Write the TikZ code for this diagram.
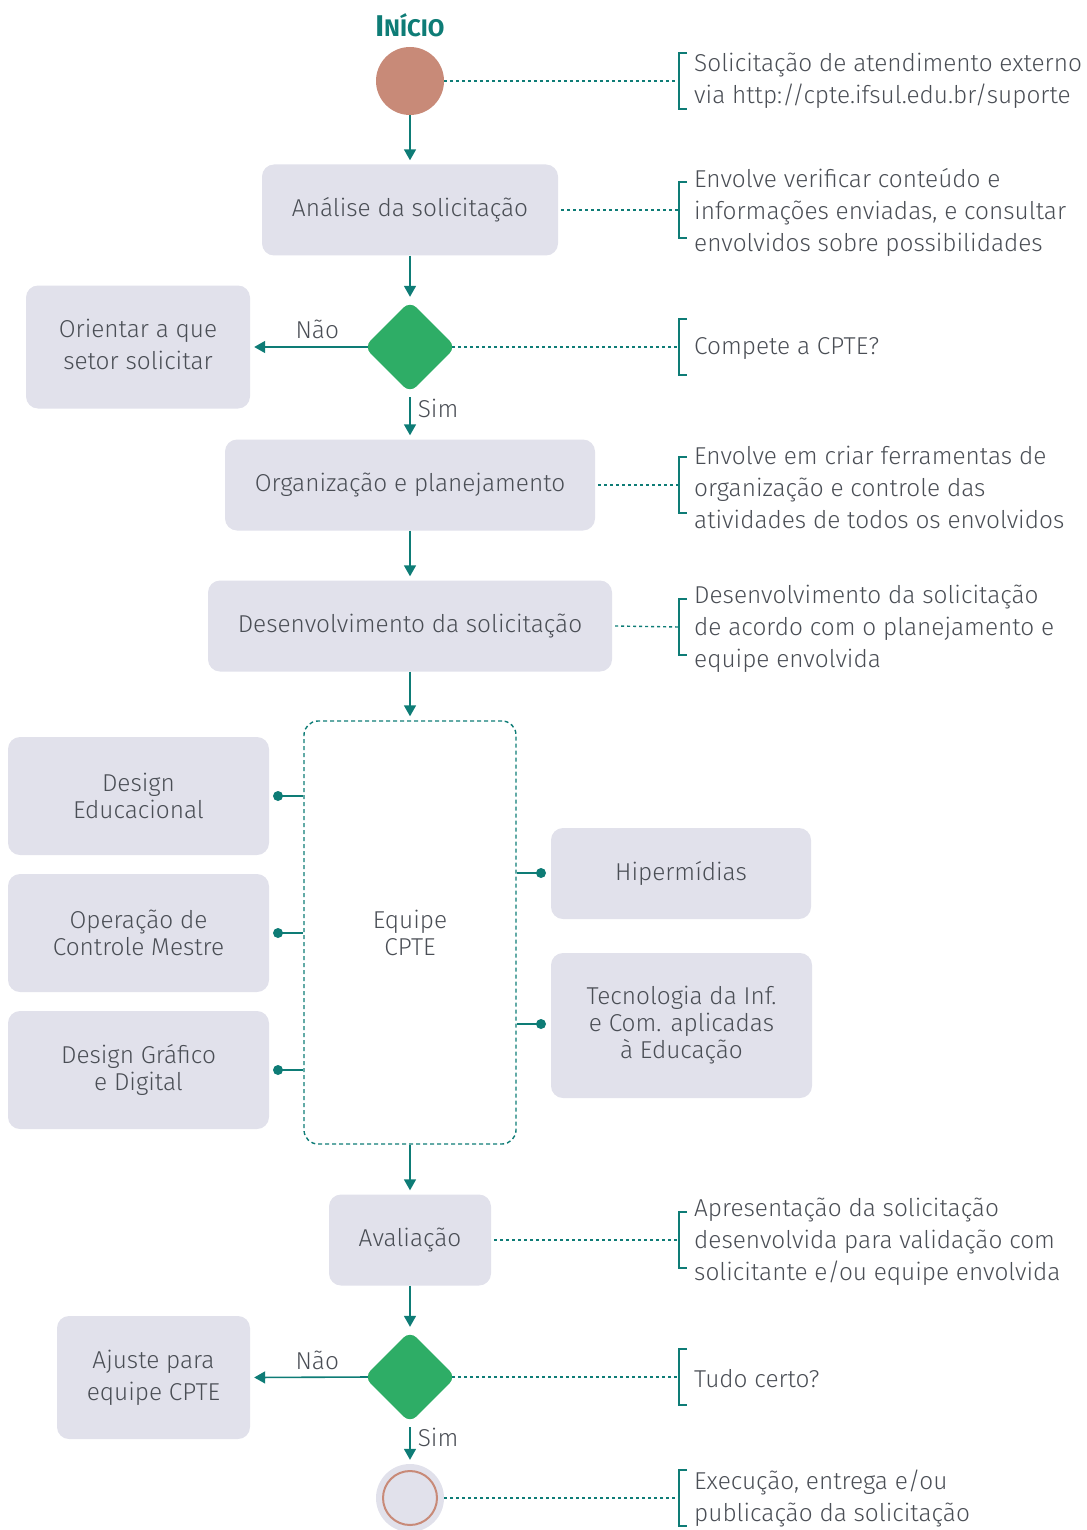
\documentclass[tikz,border=0pt]{standalone}
\usepackage{fontspec}
\setmainfont{Fira Sans Light}
\newfontfamily\headfont{Fira Sans}
\usetikzlibrary{arrows.meta,shapes.geometric}
\definecolor{teal}{HTML}{0E7C76}
\definecolor{boxgray}{HTML}{E1E1EB}
\definecolor{dgreen}{HTML}{2EAD66}
\definecolor{startred}{HTML}{C88A78}
\definecolor{txt}{HTML}{4A4E55}
\tikzset{
  every node/.style={text=txt, font=\fontsize{24.4}{32}\selectfont},
  box/.style={fill=boxgray, rounded corners=12pt, inner sep=0pt, align=center},
  tight/.style={font=\fontsize{24.4}{27}\selectfont},
  flow/.style={teal, line width=1.6pt, -{Triangle[width=12pt,length=11pt]}, shorten >=4pt},
  note/.style={teal, line width=1.4pt, dash pattern=on 3pt off 3pt},
  brk/.style={teal, line width=2.6pt},
  notetext/.style={anchor=west, align=left, inner sep=0pt},
  dec/.style={diamond, fill=dgreen, minimum width=92pt, minimum height=92pt, inner sep=0pt, rounded corners=9pt},
  lbl/.style={inner sep=0pt},
  dot/.style={circle, fill=teal, minimum size=10pt, inner sep=0pt},
}
\newcommand{\bracketat}[1]{%
  \draw[brk] ([xshift=8pt,yshift=28pt]#1) -- ([yshift=28pt]#1) -- ([yshift=-28pt]#1) -- ([xshift=8pt,yshift=-28pt]#1);}
\begin{document}
\begin{tikzpicture}[x=1pt,y=-1pt]
\useasboundingbox (0,0) rectangle (1086,1530);
% start
\node[lbl, text=teal, font=\headfont\bfseries] (title) at (410,25) {{\fontsize{30}{30}\selectfont I}{\fontsize{24}{24}\selectfont NÍCIO}};
\node[circle, fill=startred, minimum size=68pt, inner sep=0pt] (start) at (410,81) {};
% boxes
\node[box, minimum width=296pt, minimum height=91pt] (ana) at (410,210) {Análise da solicitação};
\node[dec] (d1) at (410,347) {};
\node[box, minimum width=224pt, minimum height=123pt] (ori) at (138,347) {\raisebox{3pt}{\begin{tabular}{@{}c@{}}Orientar a que\\setor solicitar\end{tabular}}};
\node[box, minimum width=370pt, minimum height=91pt] (org) at (410,485) {Organização e planejamento};
\node[box, minimum width=404pt, minimum height=91pt] (des) at (410,626) {Desenvolvimento da solicitação};
\node[draw=teal, line width=1.4pt, dash pattern=on 4pt off 3pt, rounded corners=14pt, minimum width=212pt, minimum height=423pt, inner sep=0pt, align=center, tight] (eq) at (410,932.5) {Equipe\\CPTE};
\node[box, tight, minimum width=261pt, minimum height=118pt] (de) at (138.5,796) {Design\\Educacional};
\node[box, tight, minimum width=261pt, minimum height=118pt] (op) at (138.5,933) {Operação de\\Controle Mestre};
\node[box, tight, minimum width=261pt, minimum height=118pt] (dg) at (138.5,1070) {Design Gráfico\\e Digital};
\node[box, tight, minimum width=260pt, minimum height=91pt] (hi) at (681,873.5) {Hipermídias};
\node[box, tight, minimum width=261pt, minimum height=145pt] (tic) at (681.5,1025.5) {Tecnologia da Inf.\\e Com. aplicadas\\à Educação};
\node[box, minimum width=162pt, minimum height=91pt] (ava) at (410,1240) {Avaliação};
\node[dec] (d2) at (410,1377) {};
\node[box, minimum width=193pt, minimum height=123pt] (aju) at (153.5,1377.5) {Ajuste para\\equipe CPTE};
\node[circle, fill=boxgray, minimum size=68pt, inner sep=0pt] (fim) at (410,1498) {};
\node[circle, draw=startred, line width=2pt, minimum size=54pt, inner sep=0pt] (fimin) at (410,1498) {};
% flow arrows
\draw[flow] (start.south) -- (ana.north);
\draw[flow] (ana.south) -- (d1.north);
\draw[flow] ([xshift=4pt]d1.west) -- (ori.east) node[lbl, pos=0.43, above=7pt] {Não};
\draw[flow] ([yshift=-4pt]d1.south) -- (org.north) node[lbl, pos=0.27, anchor=west, xshift=7pt] {Sim};
\draw[flow] (org.south) -- (des.north);
\draw[flow] (des.south) -- (eq.north);
\draw[flow] (eq.south) -- (ava.north);
\draw[flow] (ava.south) -- (d2.north);
\draw[flow] ([xshift=4pt]d2.west) -- (aju.east) node[lbl, pos=0.43, above=7pt] {Não};
\draw[flow] ([yshift=-4pt]d2.south) -- (fim.north) node[lbl, pos=0.27, anchor=west, xshift=7pt] {Sim};
% team connectors
\coordinate (cde) at (278,796);
\coordinate (cop) at (278,933);
\coordinate (cdg) at (278,1070);
\coordinate (chi) at (541,873);
\coordinate (ctic) at (541,1024);
\foreach \c in {cde,cop,cdg}{
  \draw[teal, line width=1.6pt] (\c) -- (eq.west |- \c);
  \node[dot] at (\c) {};
}
\foreach \c in {chi,ctic}{
  \draw[teal, line width=1.6pt] (\c) -- (eq.east |- \c);
  \node[dot] at (\c) {};
}
% notes
\coordinate (b1) at (679,81);
\coordinate (b2) at (679,210);
\coordinate (b3) at (679,347);
\coordinate (b4) at (679,485);
\coordinate (b5) at (679,627);
\coordinate (b6) at (679,1240);
\coordinate (b7) at (679,1377);
\coordinate (b8) at (679,1498);
\draw[note] (start.east) -- (b1);
\draw[note] ([xshift=3pt]ana.east) -- (b2);
\draw[note] ([xshift=-4pt]d1.east) -- (b3);
\draw[note] ([xshift=3pt]org.east) -- (b4);
\draw[note] ([xshift=3pt]des.east) -- (b5);
\draw[note] ([xshift=3pt]ava.east) -- (b6);
\draw[note] ([xshift=-4pt]d2.east) -- (b7);
\draw[note] (fim.east) -- (b8);
\foreach \b in {b1,b2,b3,b4,b5,b6,b7,b8}{\bracketat{\b}}
\node[notetext] (n1) at (694,81) {Solicitação de atendimento externo\\via http://cpte.ifsul.edu.br/suporte};
\node[notetext] (n2) at (694,212) {Envolve verificar conteúdo e\\informações enviadas, e consultar\\envolvidos sobre possibilidades};
\node[notetext] (n3) at (694,349) {Compete a CPTE?};
\node[notetext] (n4) at (694,487) {Envolve em criar ferramentas de\\organização e controle das\\atividades de todos os envolvidos};
\node[notetext] (n5) at (694,629) {Desenvolvimento da solicitação\\de acordo com o planejamento e\\equipe envolvida};
\node[notetext] (n6) at (694,1242) {Apresentação da solicitação\\desenvolvida para validação com\\solicitante e/ou equipe envolvida};
\node[notetext] (n7) at (694,1379) {Tudo certo?};
\node[notetext] (n8) at (694,1498) {Execução, entrega e/ou\\publicação da solicitação};
\end{tikzpicture}
\end{document}
